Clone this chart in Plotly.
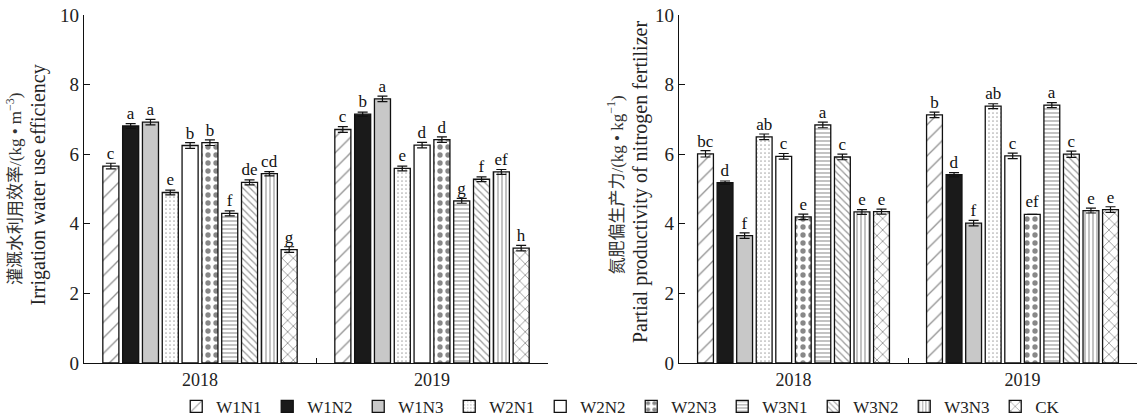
import plotly.graph_objects as go
from plotly.subplots import make_subplots

years = ["2018", "2019"]
treatments = ["W1N1", "W1N2", "W1N3", "W2N1", "W2N2", "W2N3", "W3N1", "W3N2", "W3N3", "CK"]

# Irrigation water use efficiency (kg/m3): [2018, 2019]
iwue = {
    "W1N1": [5.66, 6.71], "W1N2": [6.81, 7.15], "W1N3": [6.92, 7.59],
    "W2N1": [4.90, 5.59], "W2N2": [6.25, 6.26], "W2N3": [6.33, 6.42],
    "W3N1": [4.30, 4.66], "W3N2": [5.19, 5.28], "W3N3": [5.44, 5.49],
    "CK": [3.26, 3.30],
}
iwue_err = {
    "W1N1": [0.08, 0.08], "W1N2": [0.07, 0.06], "W1N3": [0.08, 0.08],
    "W2N1": [0.07, 0.07], "W2N2": [0.08, 0.08], "W2N3": [0.08, 0.08],
    "W3N1": [0.07, 0.07], "W3N2": [0.07, 0.07], "W3N3": [0.06, 0.07],
    "CK": [0.08, 0.08],
}
iwue_sig = {
    "W1N1": ["c", "c"], "W1N2": ["a", "b"], "W1N3": ["a", "a"],
    "W2N1": ["e", "e"], "W2N2": ["b", "d"], "W2N3": ["b", "d"],
    "W3N1": ["f", "g"], "W3N2": ["de", "f"], "W3N3": ["cd", "ef"],
    "CK": ["g", "h"],
}

# Partial productivity of nitrogen fertilizer (kg/kg): [2018, 2019]
pfp = {
    "W1N1": [6.01, 7.13], "W1N2": [5.18, 5.41], "W1N3": [3.66, 4.02],
    "W2N1": [6.50, 7.38], "W2N2": [5.94, 5.95], "W2N3": [4.20, 4.27],
    "W3N1": [6.84, 7.41], "W3N2": [5.92, 6.00], "W3N3": [4.34, 4.38],
    "CK": [4.35, 4.41],
}
pfp_err = {
    "W1N1": [0.09, 0.08], "W1N2": [0.05, 0.06], "W1N3": [0.08, 0.08],
    "W2N1": [0.08, 0.07], "W2N2": [0.08, 0.08], "W2N3": [0.08, 0.0],
    "W3N1": [0.08, 0.07], "W3N2": [0.08, 0.09], "W3N3": [0.07, 0.07],
    "CK": [0.07, 0.08],
}
pfp_sig = {
    "W1N1": ["bc", "b"], "W1N2": ["d", "d"], "W1N3": ["f", "f"],
    "W2N1": ["ab", "ab"], "W2N2": ["c", "c"], "W2N3": ["e", "ef"],
    "W3N1": ["a", "a"], "W3N2": ["c", "c"], "W3N3": ["e", "e"],
    "CK": ["e", "e"],
}

left_title_cn = "灌溉水利用效率/(kg • m<sup>−3</sup>)"
left_title_en = "Irrigation water use efficiency"
right_title_cn = "氮肥偏生产力/(kg • kg<sup>−1</sup>)"
right_title_en = "Partial productivity of nitrogen fertilizer"

styles = {
    "W1N1": dict(color="white", pattern=dict(shape="/", fgcolor="#222", size=11, solidity=0.12)),
    "W1N2": dict(color="#1a1a1a", pattern=dict(shape="")),
    "W1N3": dict(color="#c8c8c8", pattern=dict(shape="")),
    "W2N1": dict(color="white", pattern=dict(shape=".", fgcolor="#555", size=4, solidity=0.15)),
    "W2N2": dict(color="white", pattern=dict(shape="")),
    "W2N3": dict(color="white", pattern=dict(shape=".", fgcolor="#111", size=8, solidity=0.35)),
    "W3N1": dict(color="white", pattern=dict(shape="-", fgcolor="#333", size=4, solidity=0.3)),
    "W3N2": dict(color="white", pattern=dict(shape="\\", fgcolor="#333", size=5, solidity=0.25)),
    "W3N3": dict(color="white", pattern=dict(shape="|", fgcolor="#333", size=4, solidity=0.3)),
    "CK": dict(color="white", pattern=dict(shape="x", fgcolor="#222", size=8, solidity=0.2)),
}

SERIF = "Liberation Serif"
CJK = "Liberation Serif, Noto Sans CJK SC"

fig = make_subplots(rows=1, cols=2, horizontal_spacing=0.1)

for col, (vals, errs, sigs) in enumerate([(iwue, iwue_err, iwue_sig), (pfp, pfp_err, pfp_sig)], start=1):
    for t in treatments:
        st = styles[t]
        fig.add_trace(
            go.Bar(
                x=years, y=vals[t], name=t, legendgroup=t, showlegend=(col == 1),
                marker=dict(color=st["color"], pattern=st["pattern"],
                            line=dict(color="#111", width=1.3)),
                error_y=dict(type="data", array=errs[t], color="#111", thickness=1.2, width=5),
                text=sigs[t], textposition="outside", cliponaxis=False,
                textfont=dict(family=SERIF, size=17, color="#111"),
            ),
            row=1, col=col,
        )

fig.update_traces(constraintext="none")

fig.update_layout(
    width=1137, height=417,
    margin=dict(l=0, r=0, t=15, b=54, autoexpand=False),
    paper_bgcolor="white", plot_bgcolor="white",
    barmode="group", bargap=0.146, bargroupgap=0.19,
    font=dict(family=SERIF, size=17, color="#222"),
    legend=dict(orientation="h", x=0.155, xanchor="left", y=-0.126, yanchor="middle",
                entrywidth=46, entrywidthmode="pixels", itemwidth=30,
                font=dict(family=SERIF, size=17, color="#222"), traceorder="normal"),
)

fig.update_xaxes(showline=True, linecolor="#111", linewidth=1.2, ticks="inside",
                 tickson="boundaries", ticklen=5, tickcolor="#111",
                 tickfont=dict(family=SERIF, size=18, color="#222"), showgrid=False)
fig.update_yaxes(range=[0, 10], dtick=2, showline=True, linecolor="#111", linewidth=1.2,
                 ticks="inside", ticklen=6, tickcolor="#111", showgrid=False, zeroline=False,
                 tickfont=dict(family=SERIF, size=19, color="#222"))

fig.update_xaxes(domain=[84 / 1137, 548 / 1137], row=1, col=1)
fig.update_xaxes(domain=[679 / 1137, 1.0], row=1, col=2)

# Two-line y-axis titles as rotated annotations (tighter line spacing than axis titles)
title_font_cn = dict(family=CJK, size=17, color="#333")
title_font_en = dict(family=SERIF, size=20, color="#222")
for txt, xp, yp, f in [
    (left_title_cn, 14 / 1137, 0.50, title_font_cn),
    (left_title_en, 39 / 1137, 0.51, title_font_en),
    (right_title_cn, 615 / 1137, 0.51, title_font_cn),
    (right_title_en, 640 / 1137, 0.52, title_font_en),
]:
    fig.add_annotation(text=txt, xref="paper", yref="paper", x=xp, y=yp,
                       xanchor="center", yanchor="middle", textangle=-90,
                       showarrow=False, font=f)

fig.write_html("out.html", config={"displayModeBar": False},
               post_script="document.body.style.margin='0';document.body.style.overflow='hidden';")
